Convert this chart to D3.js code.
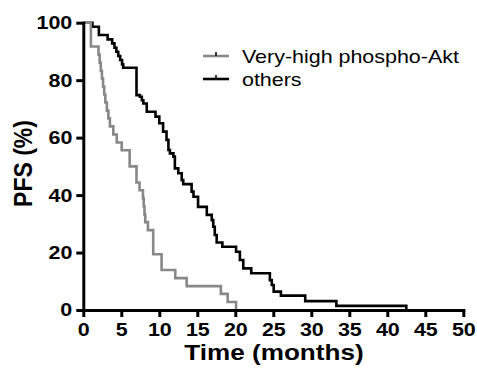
<!DOCTYPE html>
<html>
<head>
<meta charset="utf-8">
<script src="https://cdn.jsdelivr.net/npm/d3@7"></script>
<style>
  body { margin: 0; background: #fff; }
  svg { display: block; }
  .axis path, .axis line { stroke: #000; stroke-width: 3; }
  .axis path { stroke-linecap: square; }
  text { font-family: "Liberation Sans", Arial, sans-serif; fill: #000; }
</style>
</head>
<body>
<svg id="chart" width="477" height="370"></svg>
<script>

// Kaplan-Meier steps (months, PFS %)
var grayTime = [0, 1.0, 2.0, 2.15, 2.3, 2.45, 2.6, 2.75, 2.9, 3.1, 3.3, 3.5, 3.95, 4.4, 5.05,
    6.1, 7.0, 7.4, 7.85, 7.95, 8.05, 8.15, 8.5, 9.2, 10.3, 12.1, 13.6, 18.1, 19.0, 20.1];
var grayPFS = [100, 91.7, 88.9, 86.1, 83.3, 80.6, 77.8, 75.0, 72.2, 69.4, 66.7, 63.9, 61.1, 58.3, 55.6,
    50.0, 44.4, 41.7, 38.9, 36.1, 33.3, 30.6, 27.8, 19.4, 13.9, 11.1, 8.3, 5.6, 2.8, 0];

var blackTime = [0, 1.2, 2.05, 3.2, 3.8, 4.1, 4.35, 4.6, 4.85, 5.1, 5.25, 7.0, 7.45, 7.7, 7.9,
    8.35, 9.5, 10.0, 10.5, 10.95, 11.2, 11.4, 11.85, 12.05, 12.5, 12.95, 13.15, 14.25, 14.5, 15.1,
    16.25, 16.9, 17.1, 17.3, 17.55, 18.3, 20.1, 20.6, 21.05, 22.1, 24.55, 24.8, 25.05, 26.0, 29.2,
    33.3, 42.5];
var blackPFS = [100, 98.6, 95.7, 94.2, 92.8, 91.3, 89.9, 88.4, 87.0, 85.5, 84.3, 74.8, 74.2, 73.0, 71.9,
    69.0, 67.3, 65.0, 62.1, 59.2, 55.7, 54.5, 53.4, 49.3, 47.6, 45.2, 43.8, 41.2, 39.4, 35.9,
    33.1, 31.3, 29.0, 26.1, 23.5, 22.0, 20.3, 17.4, 14.5, 12.8, 10.4, 8.7, 6.4, 5.0, 3.1,
    1.45, 0];

var xTicks = [0, 5, 10, 15, 20, 25, 30, 35, 40, 45, 50];
var yTicks = [0, 20, 40, 60, 80, 100];
var seriesNames = ["Very-high phospho-Akt", "others"];
var seriesColors = ["#888888", "#000000"];

var SX = 1.16; // the original text is a bit wide

var svg = d3.select("#chart");

var x = d3.scaleLinear().domain([0, 50]).range([83.3, 463.3]);
var y = d3.scaleLinear().domain([0, 100]).range([310, 22.7]);

function stretch(sel) {
    sel.each(function () {
        var t = d3.select(this);
        var tx = +t.attr("x") || 0, ty = +t.attr("y") || 0;
        t.attr("transform", "translate(" + tx + "," + ty + ") scale(" + SX + ",1) translate(" + (-tx) + "," + (-ty) + ")");
    });
}

var line = d3.line()
    .curve(d3.curveStepAfter)
    .x(function (d) { return x(d[0]); })
    .y(function (d) { return y(d[1]); });

var series = [
    d3.zip(grayTime, grayPFS),
    d3.zip(blackTime, blackPFS)
];

// black curve below, gray on top
[1, 0].forEach(function (i) {
    svg.append("path")
        .datum(series[i])
        .attr("d", line)
        .attr("fill", "none")
        .attr("stroke", seriesColors[i])
        .attr("stroke-width", 2.6);
});

// x axis
var gx = svg.append("g")
    .attr("class", "axis")
    .attr("transform", "translate(0," + y(0) + ")")
    .call(d3.axisBottom(x).tickValues(xTicks).tickSize(7).tickSizeOuter(0).tickPadding(6));

// y axis
var gy = svg.append("g")
    .attr("class", "axis")
    .attr("transform", "translate(" + x(0) + ",0)")
    .call(d3.axisLeft(y).tickValues(yTicks).tickSize(7).tickSizeOuter(0).tickPadding(4));

svg.selectAll(".axis text")
    .style("font-size", "18.5px")
    .style("font-weight", "bold")
    .attr("fill", "#000")
    .call(stretch);

// axis titles
svg.append("text")
    .attr("x", 274).attr("y", 360)
    .attr("text-anchor", "middle")
    .style("font-size", "22.5px")
    .style("font-weight", "bold")
    .text("Time (months)")
    .call(stretch);

svg.append("text")
    .attr("transform", "translate(31.5,163.5) scale(" + SX + ",1) rotate(-90)")
    .attr("text-anchor", "middle")
    .style("font-size", "23px")
    .style("font-weight", "bold")
    .text("PFS (%)");

// legend
var legend = svg.append("g");
seriesNames.forEach(function (name, i) {
    var ly = 56 + i * 23;
    legend.append("line")
        .attr("x1", 203).attr("x2", 229)
        .attr("y1", ly).attr("y2", ly)
        .attr("stroke", seriesColors[i])
        .attr("stroke-width", 2.6);
    legend.append("line")
        .attr("x1", 216).attr("x2", 216)
        .attr("y1", ly - 4).attr("y2", ly)
        .attr("stroke", "#000")
        .attr("stroke-width", 1.5);
    legend.append("text")
        .attr("x", 242).attr("y", ly + 7.5)
        .style("font-size", "18.5px")
        .text(name)
        .call(stretch);
});

</script>
</body>
</html>
